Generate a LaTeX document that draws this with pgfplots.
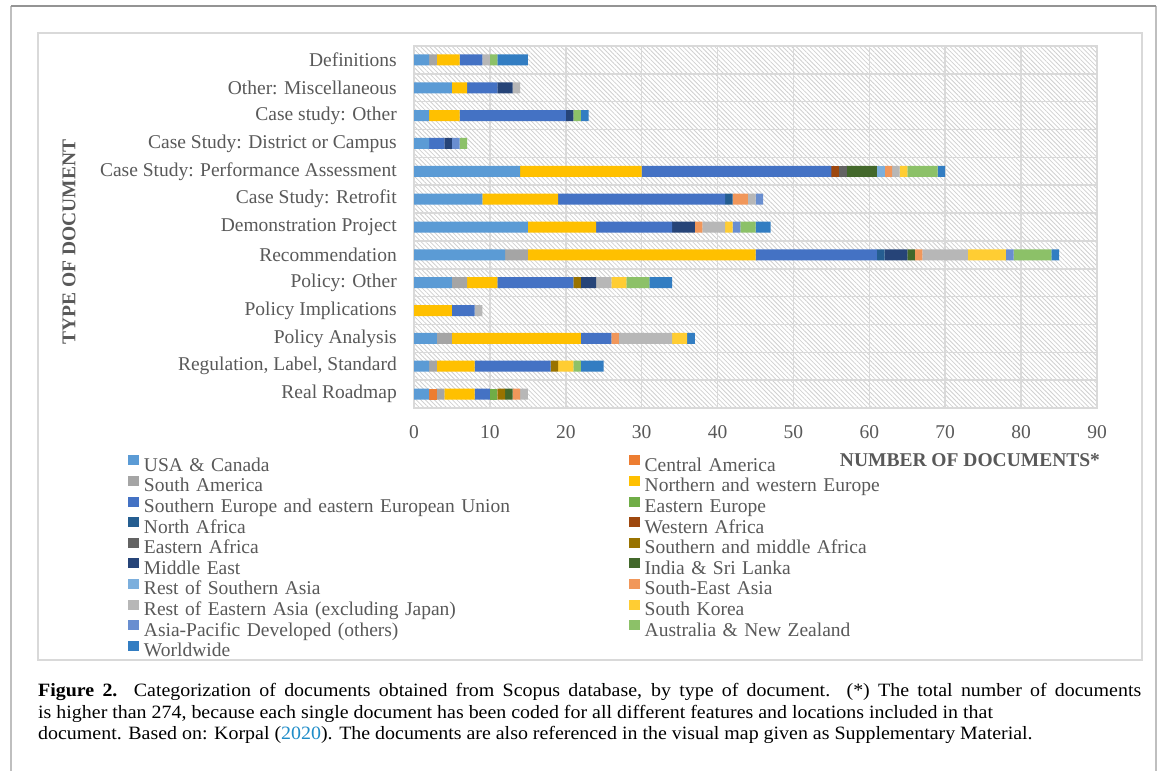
\documentclass[border=0pt]{standalone}
\usepackage{fontspec}
\setmainfont{Liberation Serif}
\newfontfamily\capfont[FakeStretch=1.06]{Liberation Serif}
\usepackage{pgfplots}
\pgfplotsset{compat=1.18}
\usepackage{pgfplotstable}
\usetikzlibrary{patterns.meta}

\definecolor{c1}{HTML}{5B9BD5}
\definecolor{c2}{HTML}{ED7D31}
\definecolor{c3}{HTML}{A5A5A5}
\definecolor{c4}{HTML}{FFC000}
\definecolor{c5}{HTML}{4472C4}
\definecolor{c6}{HTML}{70AD47}
\definecolor{c7}{HTML}{255E91}
\definecolor{c8}{HTML}{9E480E}
\definecolor{c9}{HTML}{636363}
\definecolor{c10}{HTML}{997300}
\definecolor{c11}{HTML}{264478}
\definecolor{c12}{HTML}{43682B}
\definecolor{c13}{HTML}{7CAFDD}
\definecolor{c14}{HTML}{F1975A}
\definecolor{c15}{HTML}{B7B7B7}
\definecolor{c16}{HTML}{FFCD33}
\definecolor{c17}{HTML}{698ED0}
\definecolor{c18}{HTML}{8CC168}
\definecolor{c19}{HTML}{327DC2}
\definecolor{txtgray}{HTML}{595959}
\definecolor{gridgray}{HTML}{D9D9D9}
\definecolor{hatchgray}{HTML}{D0D0D0}
\definecolor{linkblue}{HTML}{1E8CC8}

\newcommand\axfont{\fontsize{19.5bp}{23bp}\selectfont}
\newcommand\capsize{\capfont\fontsize{18.8bp}{21.3bp}\selectfont}

\pgfplotstableread{
y S1 S2 S3 S4 S5 S6 S7 S8 S9 S10 S11 S12 S13 S14 S15 S16 S17 S18 S19
0 2 1 1 4 2 1 0 0 0 1 0 1 0 1 1 0 0 0 0
1 2 0 1 5 10 0 0 0 0 1 0 0 0 0 0 2 0 1 3
2 3 0 2 17 4 0 0 0 0 0 0 0 0 1 7 2 0 0 1
3 0 0 0 5 3 0 0 0 0 0 0 0 0 0 1 0 0 0 0
4 5 0 2 4 10 0 0 0 0 1 2 0 0 0 2 2 0 3 3
5 12 0 3 30 16 0 1 0 0 0 3 1 0 1 6 5 1 5 1
6 15 0 0 9 10 0 0 0 0 0 3 0 0 1 3 1 1 2 2
7 9 0 0 10 22 0 1 0 0 0 0 0 0 2 1 0 1 0 0
8 14 0 0 16 25 0 0 1 1 0 0 4 1 1 1 1 0 4 1
9 2 0 0 0 2 0 0 0 0 0 1 0 0 0 0 0 1 1 0
10 2 0 0 4 14 0 0 0 0 0 1 0 0 0 0 0 0 1 1
11 5 0 0 2 4 0 0 0 0 0 2 0 0 0 1 0 0 0 0
12 2 0 1 3 3 0 0 0 0 0 0 0 0 0 1 0 0 1 4
}\datatable

\pgfplotsset{
  mybar/.style={fill=#1, draw=none,
    legend image code/.code={\fill[##1] (0bp,1bp) rectangle (10.7bp,11bp);}},
}

\begin{document}
\begin{tikzpicture}
\useasboundingbox (0,-771bp) rectangle (1170bp,0);
\fill[white] (0,-771bp) rectangle (1170bp,0);
\draw[line width=1.5bp, draw=black!25] (11bp,-771bp) -- (11bp,-6bp);
\draw[line width=1.5bp, draw=black!25] (1156bp,-771bp) -- (1156bp,-6bp);
\draw[line width=1.5bp, draw=black!42] (11bp,-6bp) -- (1156bp,-6bp);
\draw[line width=1.3bp, draw=gridgray] (38bp,-33bp) rectangle (1142bp,-660bp);
\begin{axis}[
  at={(414bp,-408bp)}, anchor=south west,
  scale only axis, width=683bp, height=362bp,
  xbar stacked, bar width=11bp,
  enlargelimits=false,
  xmin=0, xmax=90, xtick={0,10,...,90},
  ymin=-0.5, ymax=12.5, ytick={0,...,12},
  minor ytick={-0.5,0.5,...,12.5},
  yticklabels={Real Roadmap,{Regulation, Label, Standard},Policy Analysis,Policy Implications,Policy: Other,Recommendation,Demonstration Project,Case Study: Retrofit,Case Study: Performance Assessment,Case Study: District or Campus,Case study: Other,Other: Miscellaneous,Definitions},
  xmajorgrids, yminorgrids,
  major grid style={draw=gridgray, line width=1.5bp},
  minor grid style={draw=gridgray, line width=1.5bp},
  axis line style={draw=gridgray, line width=1.5bp},
  major tick length=0pt, minor tick length=0pt,
  tick style={draw=none},
  ticklabel style={font=\axfont, text=txtgray},
  /pgf/number format/assume math mode=true,
  yticklabel style={inner sep=0pt, xshift=-17bp},
  xticklabel style={inner sep=0pt, yshift=-17bp},
  xlabel={NUMBER OF DOCUMENTS*},
  xlabel style={at={(axis description cs:0.814,-0.1436)}, anchor=center, font=\axfont\bfseries, text=txtgray},
  ylabel={TYPE OF DOCUMENT},
  ylabel style={at={(axis description cs:-0.5051,0.4586)}, anchor=center, font=\axfont\bfseries, text=txtgray},
  axis background/.style={pattern={Lines[angle=-45,distance=3.2bp,line width=0.8bp]}, pattern color=hatchgray},
  legend columns=2,
  legend cell align=left,
  legend style={draw=none, fill=none, at={(axis description cs:-0.4183,-0.1307)}, anchor=north west,
    column sep=5bp, row sep=0.6bp, inner sep=0pt, outer sep=0pt,
    nodes={inner sep=0pt, text height=14bp, text depth=4bp, text width=480bp, align=left, font=\axfont, text=txtgray}},
]
\addplot[mybar=c1] table[x=S1,y=y]{\datatable}; \addlegendentry{USA \& Canada}
\addplot[mybar=c2] table[x=S2,y=y]{\datatable}; \addlegendentry{Central America}
\addplot[mybar=c3] table[x=S3,y=y]{\datatable}; \addlegendentry{South America}
\addplot[mybar=c4] table[x=S4,y=y]{\datatable}; \addlegendentry{Northern and western Europe}
\addplot[mybar=c5] table[x=S5,y=y]{\datatable}; \addlegendentry{Southern Europe and eastern European Union}
\addplot[mybar=c6] table[x=S6,y=y]{\datatable}; \addlegendentry{Eastern Europe}
\addplot[mybar=c7] table[x=S7,y=y]{\datatable}; \addlegendentry{North Africa}
\addplot[mybar=c8] table[x=S8,y=y]{\datatable}; \addlegendentry{Western Africa}
\addplot[mybar=c9] table[x=S9,y=y]{\datatable}; \addlegendentry{Eastern Africa}
\addplot[mybar=c10] table[x=S10,y=y]{\datatable}; \addlegendentry{Southern and middle Africa}
\addplot[mybar=c11] table[x=S11,y=y]{\datatable}; \addlegendentry{Middle East}
\addplot[mybar=c12] table[x=S12,y=y]{\datatable}; \addlegendentry{India \& Sri Lanka}
\addplot[mybar=c13] table[x=S13,y=y]{\datatable}; \addlegendentry{Rest of Southern Asia}
\addplot[mybar=c14] table[x=S14,y=y]{\datatable}; \addlegendentry{South-East Asia}
\addplot[mybar=c15] table[x=S15,y=y]{\datatable}; \addlegendentry{Rest of Eastern Asia (excluding Japan)}
\addplot[mybar=c16] table[x=S16,y=y]{\datatable}; \addlegendentry{South Korea}
\addplot[mybar=c17] table[x=S17,y=y]{\datatable}; \addlegendentry{Asia-Pacific Developed (others)}
\addplot[mybar=c18] table[x=S18,y=y]{\datatable}; \addlegendentry{Australia \& New Zealand}
\addplot[mybar=c19] table[x=S19,y=y]{\datatable}; \addlegendentry{Worldwide}
\end{axis}
\node[anchor=base west, inner sep=0pt, font=\capsize] at (38bp,-696.7bp) {\makebox[1103bp][s]{\textbf{Figure 2.} Categorization of documents obtained from Scopus database, by type of document. (*) The total number of documents}};
\node[anchor=base west, inner sep=0pt, font=\capsize] at (38bp,-718.2bp) {is higher than 274, because each single document has been coded for all different features and locations included in that};
\node[anchor=base west, inner sep=0pt, font=\capsize] at (38bp,-739.6bp) {document. Based on: Korpal (\textcolor{linkblue}{2020}). The documents are also referenced in the visual map given as Supplementary Material.};
\end{tikzpicture}
\end{document}
